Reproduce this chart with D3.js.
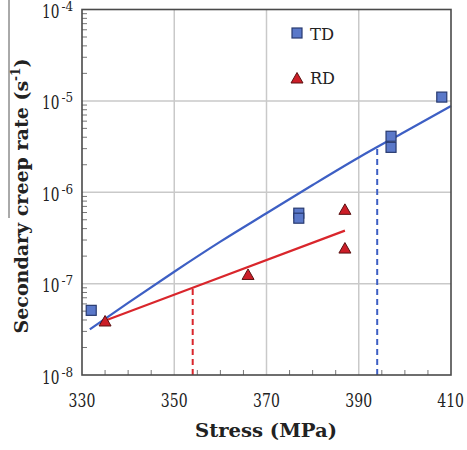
<!DOCTYPE html>
<html><head><meta charset="utf-8">
<script src="https://cdn.jsdelivr.net/npm/d3@7"></script>
<style>body{margin:0;background:#fff}svg{display:block}text{font-family:"DejaVu Serif",serif;fill:#222}</style>
</head><body><svg id="c" width="467" height="450"></svg>
<script>
// data
const tdStress=[332,377,377,397,397,408];
const tdRate=[5.1e-8,5.9e-7,5.2e-7,4.1e-6,3.1e-6,1.1e-5];
const rdStress=[335,366,387,387];
const rdRate=[3.9e-8,1.26e-7,6.5e-7,2.45e-7];
const tdFitStress=[331.7,340,350,360,370,380,390,400,410];
const tdFitRate=[3.16e-8,6.17e-8,1.35e-7,2.88e-7,5.89e-7,1.2e-6,2.4e-6,4.6e-6,8.8e-6];
const rdFitStress=[334.5,354,387];
const rdFitRate=[3.85e-8,9.0e-8,3.8e-7];
const tdDropStress=[394], tdDropRate=[3.0e-6];
const rdDropStress=[354], rdDropRate=[9.0e-8];
const xTicks=[330,350,370,390,410];
const yExponents=[-8,-7,-6,-5,-4];
const seriesNames=["TD","RD"];

const svg=d3.select("#c");
const L=82,R=451,T=9.5,B=375;
const x=d3.scaleLinear().domain([330,410]).range([L,R]);
const y=d3.scaleLog().domain([1e-8,1e-4]).range([B,T]);
const BLUE="#3d5fc4", RED="#d9262c";

// grid
const g=svg.append("g");
g.selectAll(".gx").data(xTicks.slice(1,-1)).enter().append("line")
 .attr("x1",d=>x(d)).attr("x2",d=>x(d)).attr("y1",T).attr("y2",B)
 .attr("stroke","#c9c9c9").attr("stroke-width",1.5);
g.selectAll(".gy").data(yExponents.slice(1,-1)).enter().append("line")
 .attr("y1",d=>y(Math.pow(10,d))).attr("y2",d=>y(Math.pow(10,d))).attr("x1",L).attr("x2",R)
 .attr("stroke","#c9c9c9").attr("stroke-width",1.5);

// minor ticks
const xMinor=d3.range(335,410,5).filter(v=>v%20!==10);
svg.selectAll(".mx").data(xMinor).enter().append("line")
 .attr("x1",d=>x(d)).attr("x2",d=>x(d)).attr("y1",B).attr("y2",B-5)
 .attr("stroke","#777").attr("stroke-width",1);
const yMinor=y.ticks().filter(v=>Math.abs(Math.log10(v)-Math.round(Math.log10(v)))>1e-6);
svg.selectAll(".my").data(yMinor).enter().append("line")
 .attr("y1",d=>y(d)).attr("y2",d=>y(d)).attr("x1",L).attr("x2",L+5)
 .attr("stroke","#777").attr("stroke-width",1);

// fit lines
const line=d3.line().x(d=>x(d[0])).y(d=>y(d[1])).curve(d3.curveMonotoneX);
svg.append("path").datum(tdFitStress.map((s,i)=>[s,tdFitRate[i]]))
 .attr("d",line).attr("fill","none").attr("stroke",BLUE).attr("stroke-width",2.2);
svg.append("path").datum(rdFitStress.map((s,i)=>[s,rdFitRate[i]]))
 .attr("d",d3.line().x(d=>x(d[0])).y(d=>y(d[1]))).attr("fill","none").attr("stroke",RED).attr("stroke-width",2.2);

// dashed drops
svg.selectAll(".db").data(tdDropStress).enter().append("line")
 .attr("x1",d=>x(d)).attr("x2",d=>x(d)).attr("y1",B).attr("y2",(d,i)=>y(tdDropRate[i]))
 .attr("stroke",BLUE).attr("stroke-width",2).attr("stroke-dasharray","6,4");
svg.selectAll(".dr").data(rdDropStress).enter().append("line")
 .attr("x1",d=>x(d)).attr("x2",d=>x(d)).attr("y1",B).attr("y2",(d,i)=>y(rdDropRate[i]))
 .attr("stroke",RED).attr("stroke-width",2).attr("stroke-dasharray","6,4");

// markers
const SQ=10;
function square(sel){sel.attr("width",SQ).attr("height",SQ).attr("fill","#5a78c9").attr("stroke","#283a70").attr("stroke-width",1.2);}
function tri(cx,cy){return `M${cx},${cy-5.5} L${cx+6},${cy+5} L${cx-6},${cy+5} Z`;}
function triStyle(sel){sel.attr("fill","#cc1e28").attr("stroke","#5a1212").attr("stroke-width",1);}
svg.selectAll(".td").data(tdStress).enter().append("rect")
 .attr("x",d=>x(d)-SQ/2).attr("y",(d,i)=>y(tdRate[i])-SQ/2).call(square);
svg.selectAll(".rd").data(rdStress).enter().append("path")
 .attr("d",(d,i)=>tri(x(d),y(rdRate[i]))).call(triStyle);

// frame
svg.append("rect").attr("x",L).attr("y",T).attr("width",R-L).attr("height",B-T)
 .attr("fill","none").attr("stroke","#4a4a4a").attr("stroke-width",1.6);

// x tick labels (horizontally condensed via transform)
const SX=0.78;
svg.selectAll(".xl").data(xTicks).enter().append("g")
 .attr("transform",(d,i)=>`translate(${i===xTicks.length-1?464:x(d)},407) scale(${SX},1)`)
 .append("text")
 .attr("text-anchor",(d,i)=>i===xTicks.length-1?"end":"middle")
 .attr("font-size",18).text(d=>d);
// y tick labels: base and exponent as separate texts
svg.selectAll(".yb").data(yExponents).enter().append("g")
 .attr("transform",d=>`translate(59.5,${y(Math.pow(10,d))+8.5}) scale(0.76,1)`)
 .append("text").attr("text-anchor","end").attr("font-size",18).text("10");
svg.selectAll(".ye").data(yExponents).enter().append("text")
 .attr("x",61.5).attr("y",d=>y(Math.pow(10,d))+1.5).attr("font-size",12).text(d=>d);

// axis titles
svg.append("text").attr("x",266).attr("y",437).attr("text-anchor","middle")
 .attr("font-size",19).attr("font-weight","bold")
 .attr("textLength",142).attr("lengthAdjust","spacingAndGlyphs").text("Stress (MPa)");
const yt=svg.append("text").attr("transform","translate(28,196) rotate(-90)")
 .attr("text-anchor","middle").attr("font-size",19).attr("font-weight","bold")
 .attr("textLength",275).attr("lengthAdjust","spacingAndGlyphs");
yt.append("tspan").text("Secondary creep rate (s");
yt.append("tspan").attr("font-size",12).attr("dy",-8).text("-1");
yt.append("tspan").attr("dy",8).text(")");

// stray line at left edge in reference
svg.append("line").attr("x1",9).attr("x2",9).attr("y1",0).attr("y2",218).attr("stroke","#555").attr("stroke-width",1);

// legend
const lg=svg.append("g");
lg.append("rect").attr("x",297-SQ/2).attr("y",33-SQ/2).call(square);
lg.append("text").attr("x",310).attr("y",39.5).attr("font-size",17)
 .attr("textLength",24).attr("lengthAdjust","spacingAndGlyphs").text(seriesNames[0]);
lg.append("path").attr("d",tri(297,78)).call(triStyle);
lg.append("text").attr("x",310).attr("y",84).attr("font-size",17)
 .attr("textLength",25).attr("lengthAdjust","spacingAndGlyphs").text(seriesNames[1]);
</script></body></html>
